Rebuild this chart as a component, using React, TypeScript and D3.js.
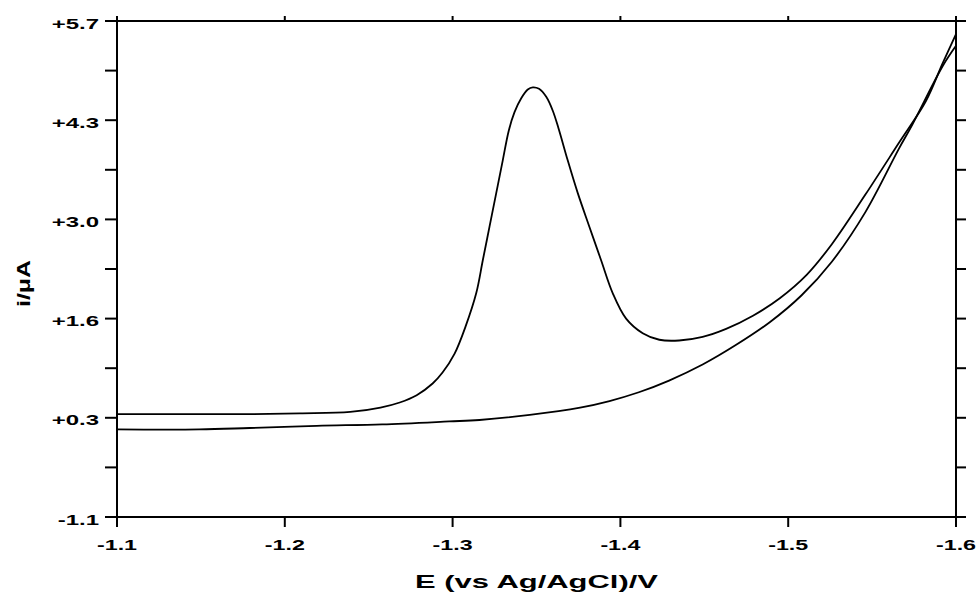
import React, { useEffect, useRef } from "react";
import * as d3 from "d3";

// potential (V) and current (uA)
const sampleE = [-1.1, -1.149, -1.179, -1.209, -1.239, -1.257, -1.2685, -1.2786, -1.2881, -1.294, -1.3012, -1.3077, -1.3141, -1.318, -1.322, -1.326, -1.3299, -1.3335, -1.3369, -1.3409, -1.3448, -1.3478, -1.3515, -1.3558, -1.3597, -1.3631, -1.3686, -1.3746, -1.3815, -1.3885, -1.3954, -1.4034, -1.4133, -1.4232, -1.435, -1.449, -1.463, -1.479, -1.495, -1.511, -1.526, -1.546, -1.566, -1.582, -1.592, -1.6];
const sampleI = [0.31, 0.31, 0.31, 0.32, 0.34, 0.4, 0.47, 0.57, 0.73, 0.88, 1.14, 1.51, 1.97, 2.42, 2.88, 3.34, 3.79, 4.2, 4.45, 4.64, 4.76, 4.79, 4.77, 4.66, 4.47, 4.23, 3.79, 3.34, 2.88, 2.42, 1.97, 1.62, 1.42, 1.33, 1.32, 1.37, 1.48, 1.66, 1.9, 2.22, 2.64, 3.32, 4.03, 4.6, 5.12, 5.52];

const blankE = [-1.1, -1.149, -1.179, -1.219, -1.258, -1.298, -1.316, -1.346, -1.376, -1.3935, -1.411, -1.429, -1.449, -1.469, -1.489, -1.508, -1.526, -1.546, -1.566, -1.574, -1.592, -1.6];
const blankI = [0.1, 0.1, 0.12, 0.15, 0.17, 0.21, 0.23, 0.3, 0.4, 0.49, 0.61, 0.77, 0.99, 1.26, 1.57, 1.94, 2.4, 3.08, 3.95, 4.28, 5.08, 5.36];

const xTicks = [-1.1, -1.2, -1.3, -1.4, -1.5, -1.6];
const xTickLabels = ["-1.1", "-1.2", "-1.3", "-1.4", "-1.5", "-1.6"];
const yTicks = [-1.1, -0.42, 0.26, 0.94, 1.62, 2.3, 2.98, 3.66, 4.34, 5.02, 5.7];
const yTickLabels = ["-1.1", "", "+0.3", "", "+1.6", "", "+3.0", "", "+4.3", "", "+5.7"];

export default function App() {
  const ref = useRef<SVGSVGElement>(null);

  useEffect(() => {
    const svg = d3.select(ref.current);
    svg.selectAll("*").remove();

    const left = 117, right = 956, top = 21, bottom = 517;
    const x = d3.scaleLinear().domain([-1.1, -1.6]).range([left, right]);
    const y = d3.scaleLinear().domain([-1.1, 5.7]).range([bottom, top]);

    const font = "'Liberation Sans', Arial, sans-serif";

    // frame
    svg.append("rect")
      .attr("x", left).attr("y", top)
      .attr("width", right - left).attr("height", bottom - top)
      .attr("fill", "none").attr("stroke", "#000").attr("stroke-width", 2);

    // y ticks, both sides outward
    svg.selectAll(".ytl").data(yTicks).join("line")
      .attr("x1", left - 12).attr("x2", left)
      .attr("y1", (d) => y(d)).attr("y2", (d) => y(d))
      .attr("stroke", "#000").attr("stroke-width", 2);
    svg.selectAll(".ytr").data(yTicks).join("line")
      .attr("x1", right).attr("x2", right + 10)
      .attr("y1", (d) => y(d)).attr("y2", (d) => y(d))
      .attr("stroke", "#000").attr("stroke-width", 2);

    // x ticks: down at bottom, short up at top
    xTicks.forEach((t, i) => {
      svg.append("line")
        .attr("x1", x(t)).attr("x2", x(t)).attr("y1", bottom).attr("y2", bottom + 10)
        .attr("stroke", "#000").attr("stroke-width", 2);
      svg.append("line")
        .attr("x1", x(t)).attr("x2", x(t)).attr("y1", top).attr("y2", top - 5)
        .attr("stroke", "#000").attr("stroke-width", 2);
      svg.append("text")
        .attr("transform", `translate(${x(t)},550) scale(1.55,1)`)
        .attr("text-anchor", "middle")
        .attr("font-family", font).attr("font-weight", "bold").attr("font-size", 15)
        .text(xTickLabels[i]);
    });

    yTicks.forEach((t, i) => {
      if (!yTickLabels[i]) return;
      svg.append("text")
        .attr("transform", `translate(99,${y(t) + 7.5}) scale(1.6,1)`)
        .attr("text-anchor", "end")
        .attr("font-family", font).attr("font-weight", "bold").attr("font-size", 15)
        .text(yTickLabels[i]);
    });

    // axis titles
    svg.append("text")
      .attr("x", 415).attr("y", 588)
      .attr("textLength", 243).attr("lengthAdjust", "spacingAndGlyphs")
      .attr("font-family", font).attr("font-weight", "bold").attr("font-size", 18)
      .text("E (vs Ag/AgCl)/V");
    svg.append("text")
      .attr("transform", "translate(30,307) rotate(-90)")
      .attr("textLength", 47).attr("lengthAdjust", "spacingAndGlyphs")
      .attr("font-family", font).attr("font-weight", "bold").attr("font-size", 18)
      .text("i/μA");

    const line = d3.line<[number, number]>()
      .x((d) => x(d[0])).y((d) => y(d[1]))
      .curve(d3.curveCatmullRom.alpha(0.5));

    const series = [
      d3.zip(sampleE, sampleI) as [number, number][],
      d3.zip(blankE, blankI) as [number, number][],
    ];
    svg.selectAll(".curve").data(series).join("path")
      .attr("d", (d) => line(d))
      .attr("fill", "none").attr("stroke", "#000").attr("stroke-width", 1.8);
  }, []);

  return (
    <svg ref={ref} width={976} height={601}
      style={{ position: "absolute", left: 0, top: 0, background: "#fff" }} />
  );
}
